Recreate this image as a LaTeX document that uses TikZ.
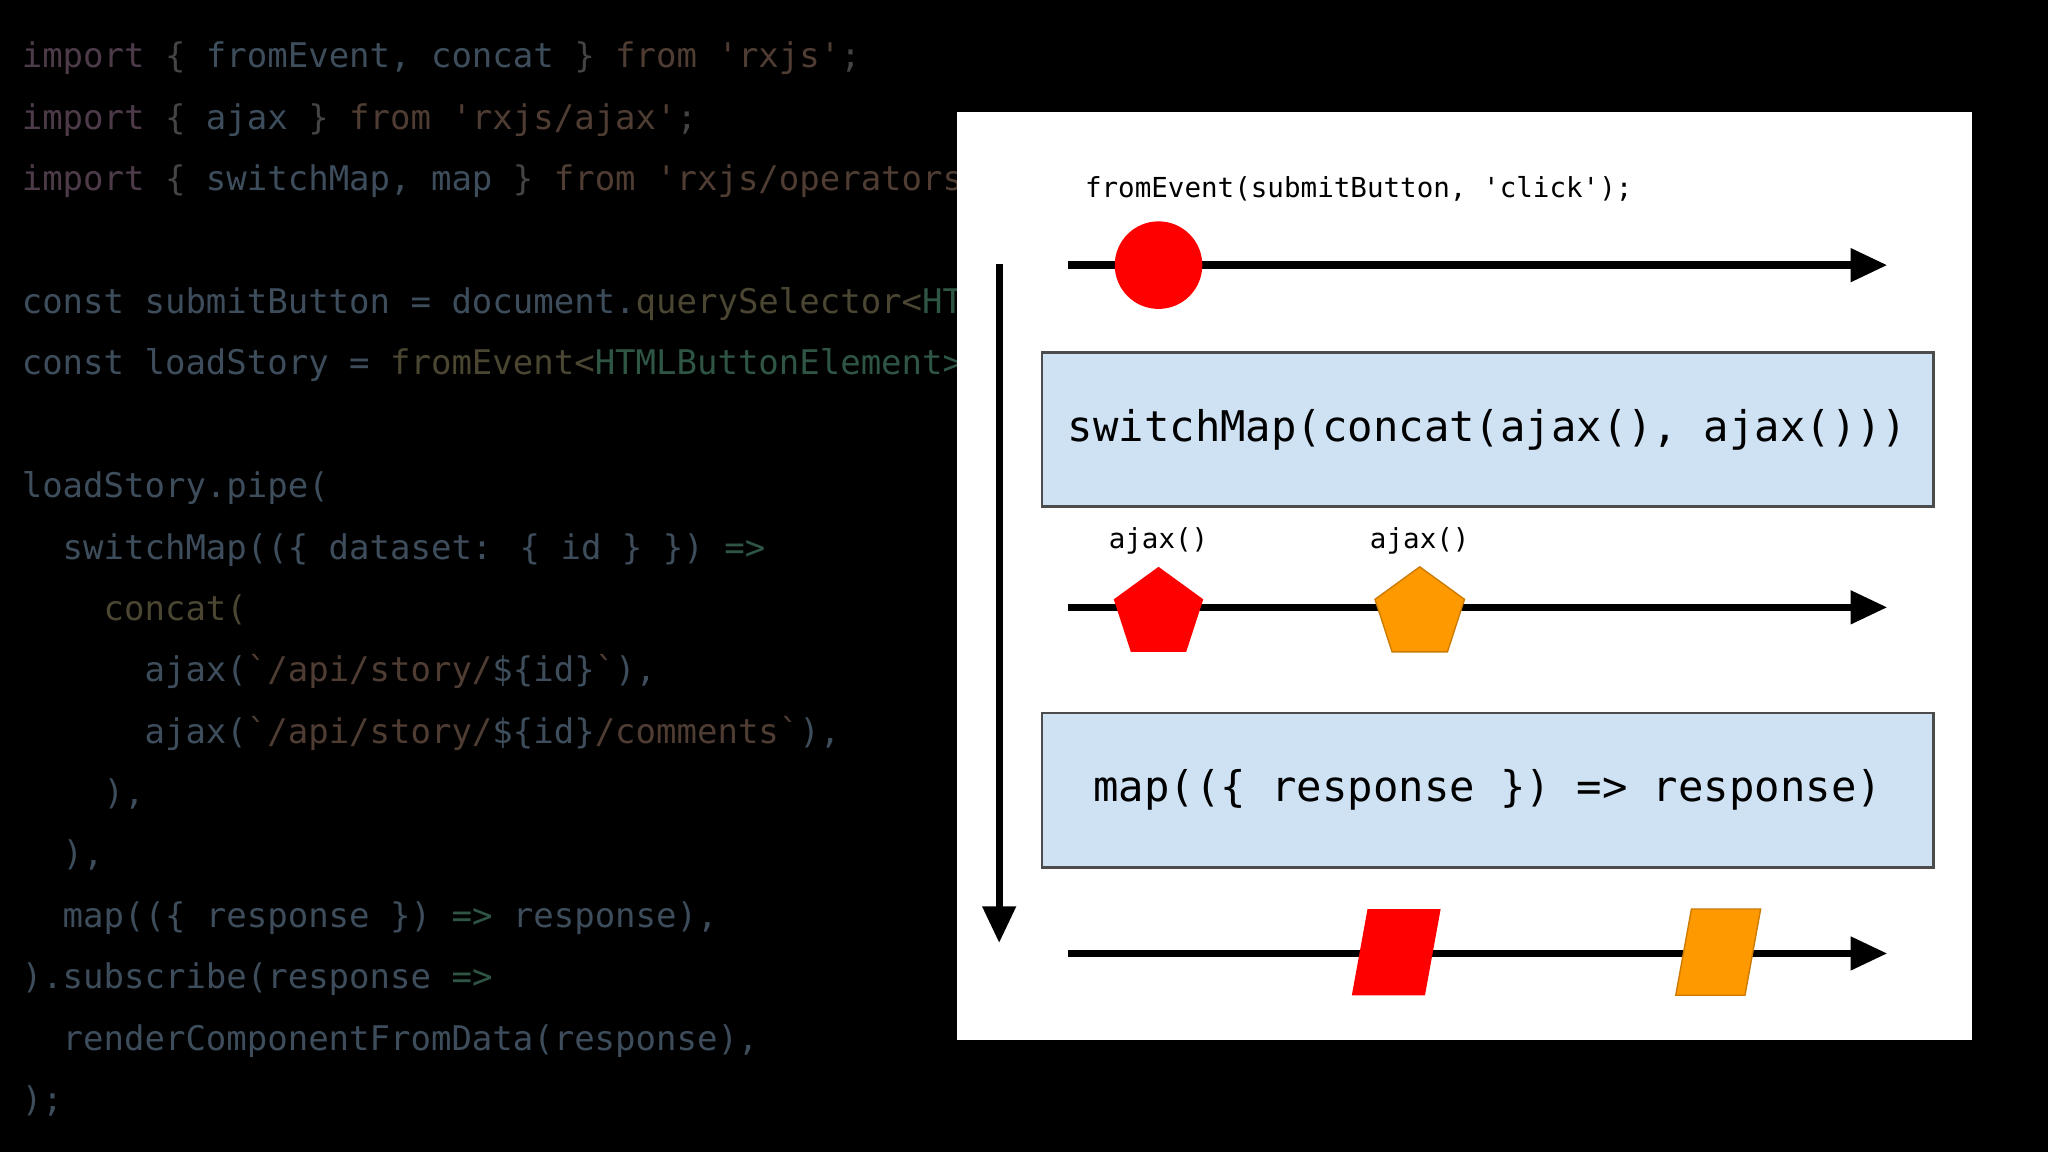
\documentclass[tikz,border=0pt]{standalone}
\usepackage{fontspec}
\usetikzlibrary{shapes.geometric,arrows.meta}
\newfontfamily\codef{DejaVu Sans Mono}
\newfontfamily\diagf{DejaVu Sans Mono}
\definecolor{kw}{HTML}{4D3B4A}
\definecolor{idc}{HTML}{3E4D5C}
\definecolor{str}{HTML}{4F3D33}
\definecolor{fnc}{HTML}{4B4632}
\definecolor{ty}{HTML}{2F5545}
\definecolor{pu}{HTML}{444444}
\definecolor{boxfill}{HTML}{CFE2F3}
\definecolor{orng}{HTML}{FF9900}
\newcommand{\K}[1]{\textcolor{kw}{#1}}
\newcommand{\I}[1]{\textcolor{idc}{#1}}
\newcommand{\Sx}[1]{\textcolor{str}{#1}}
\newcommand{\F}[1]{\textcolor{fnc}{#1}}
\newcommand{\T}[1]{\textcolor{ty}{#1}}
\tikzset{
 codeline/.style={anchor=base west,inner sep=0,font=\codef\fontsize{7.4}{9}\selectfont,text=pu},
 lbl/.style={inner sep=0,font=\diagf\fontsize{6}{7}\selectfont,text=black},
 big/.style={inner sep=0,font=\diagf\fontsize{9.2}{11}\selectfont,text=black},
 opbox/.style={draw=black!70,fill=boxfill,line width=0.6pt},
 stream/.style={line width=1.6pt,-{Triangle[length=8pt,width=7pt]}},
}
\begin{document}
\begin{tikzpicture}[x=0.01cm,y=-0.01cm]
\fill[black] (0,0) rectangle (1568,882);
\useasboundingbox (0,0) rectangle (1568,882);
\def\cx{16}
\node[codeline] (c1) at (16,52) {\K{import} \{ \I{fromEvent, concat} \} \Sx{from 'rxjs'};};
\node[codeline] (c2) at (16,99) {\K{import} \{ \I{ajax} \} \Sx{from 'rxjs/ajax'};};
\node[codeline] (c3) at (16,146) {\K{import} \{ \I{switchMap, map} \} \Sx{from 'rxjs/operators';}};
\node[codeline] (c4) at (16,240) {\I{const submitButton = document.}\F{querySelector<}\T{HTMLButtonElement>}};
\node[codeline] (c5) at (16,287) {\I{const loadStory =} \F{fromEvent<}\T{HTMLButtonElement>(submitButton)}};
\node[codeline] (c6) at (16,381) {\I{loadStory.pipe(}};
\node[codeline] (c7) at (16,428) {\ \ \I{switchMap((\{ dataset: \{ id \} \})} \T{=>}};
\node[codeline] (c8) at (16,475) {\ \ \ \ \F{concat(}};
\node[codeline] (c9) at (16,522) {\ \ \ \ \ \ \I{ajax(}\Sx{`/api/story/}\I{\$\{id\}}\Sx{`}\I{),}};
\node[codeline] (c10) at (16,569) {\ \ \ \ \ \ \I{ajax(}\Sx{`/api/story/}\I{\$\{id\}}\Sx{/comments`}\I{),}};
\node[codeline] (c11) at (16,616) {\ \ \ \ \I{),}};
\node[codeline] (c12) at (16,663) {\ \ \I{),}};
\node[codeline] (c13) at (16,710) {\ \ \I{map((\{ response \})} \T{=>} \I{response),}};
\node[codeline] (c14) at (16,757) {\I{).subscribe(response} \T{=>}};
\node[codeline] (c15) at (16,804) {\ \ \I{renderComponentFromData(response),}};
\node[codeline] (c16) at (16,851) {\I{);}};
% panel
\fill[white] (733,86) rectangle (1510,796);
\coordinate (vtop) at (765,202);
\coordinate (vbot) at (765,722);
\draw[stream] (vtop) -- (vbot);
\node[lbl,anchor=base west] (t1) at (830,151) {fromEvent(submitButton, 'click');};
\coordinate (s1a) at (818,203); \coordinate (s1b) at (1445,203);
\draw[stream] (s1a) -- (s1b);
\node[circle,fill=red,minimum size=0.67cm,inner sep=0] (ev) at (887,203) {};
\node[opbox,minimum width=6.82cm,minimum height=1.18cm] (b1) at (1139,329) {};
\node[big] (b1t) at (1139,329) {switchMap(concat(ajax(), ajax()))};
\coordinate (s2a) at (818,465); \coordinate (s2b) at (1445,465);
\draw[stream] (s2a) -- (s2b);
\node[lbl] (a1) at (887,414) {ajax()};
\node[lbl] (a2) at (1087,414) {ajax()};
\node[regular polygon,regular polygon sides=5,fill=red,minimum size=0.72cm,inner sep=0] (p1) at (887,470) {};
\node[regular polygon,regular polygon sides=5,fill=orng,draw=orng!80!black,line width=0.3pt,minimum size=0.72cm,inner sep=0] (p2) at (1087,470) {};
\node[opbox,minimum width=6.82cm,minimum height=1.18cm] (b2) at (1139,605) {};
\node[big] (b2t) at (1139,605) {map((\{ response \}) => response)};
\coordinate (s3a) at (818,730); \coordinate (s3b) at (1445,730);
\draw[stream] (s3a) -- (s3b);
\fill[red] (1047,696) -- (1103,696) -- (1091,762) -- (1035,762) -- cycle;
\fill[orng,draw=orng!80!black,line width=0.3pt] (1295,696) -- (1348,696) -- (1336,762) -- (1283,762) -- cycle;
\end{tikzpicture}
\end{document}
